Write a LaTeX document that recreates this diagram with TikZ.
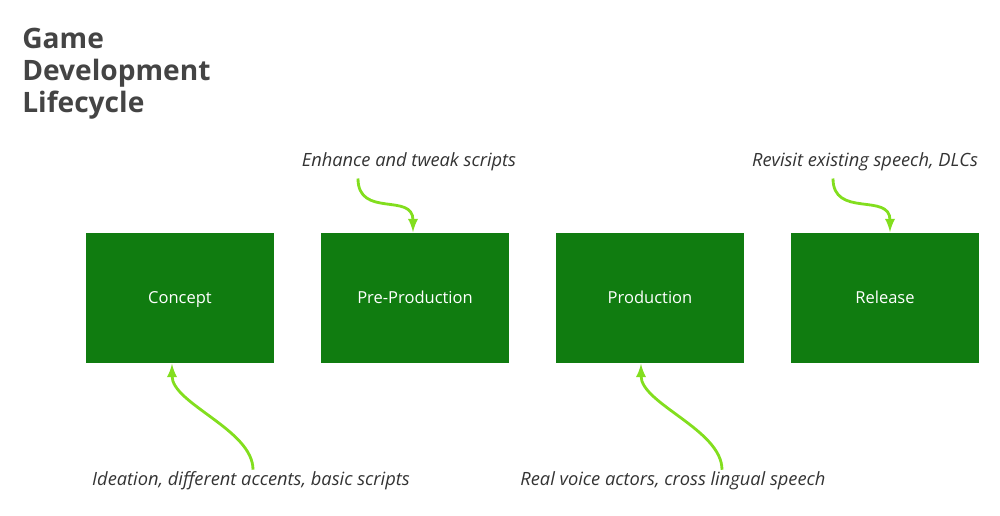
\documentclass[tikz,border=0pt]{standalone}
\usepackage{fontspec}
\setmainfont{Open Sans}
\usepackage{tikz}
\usetikzlibrary{arrows}

\definecolor{xgreen}{RGB}{16,124,16}
\definecolor{lime}{RGB}{130,222,30}
\definecolor{ink}{RGB}{51,51,51}
\definecolor{heading}{RGB}{68,68,68}

\tikzset{
  phase/.style={fill=xgreen, minimum width=3.76cm, minimum height=2.62cm,
                text=white, text height=1.6ex, text depth=0.5ex,
                font=\fontsize{9.4}{11}\selectfont},
  note/.style={text=ink, inner sep=0pt, font=\fontsize{10.4}{12}\selectfont\itshape},
  lead/.style={draw=lime, line width=1.6pt, -latex}
}

\begin{document}
\begin{tikzpicture}[x=0.02cm, y=0.02cm]

\useasboundingbox (0,0) rectangle (1000,516);

\node [anchor=north west, inner sep=0pt, align=left, text=heading,
       font=\fontsize{16}{18.1}\selectfont\bfseries] (title) at (22,488)
       {Game\\Development\\Lifecycle};

% phases
\node [phase] (concept) at (180,218) {Concept};
\node [phase] (pre)     at (415,218) {Pre-Production};
\node [phase] (prod)    at (650,218) {Production};
\node [phase] (rel)     at (885,218) {Release};

% notes
\node [note] (enh) at (409,354) {Enhance and tweak scripts};
\node [note] (rev) at (865,354) {Revisit existing speech, DLCs};
\node [note] (ide) at (251,35)  {Ideation, different accents, basic scripts};
\node [note] (act) at (673,35)  {Real voice actors, cross lingual speech};

\draw [lead] ([xshift=-51*0.02cm, yshift=-4pt]enh.south)
    .. controls +(0,-40) and +(0,40) .. ([xshift=-2*0.02cm]pre.north);
\draw [lead] ([xshift=-32*0.02cm, yshift=-4pt]rev.south)
    .. controls +(0,-40) and +(0,40) .. ([xshift=5*0.02cm]rel.north);
\draw [lead] ([xshift=2*0.02cm, yshift=1pt]ide.north)
    .. controls +(0,40) and +(0,-40) .. ([xshift=-8*0.02cm]concept.south);
\draw [lead] ([xshift=49*0.02cm, yshift=1pt]act.north)
    .. controls +(0,40) and +(0,-40) .. ([xshift=-9*0.02cm]prod.south);

\end{tikzpicture}
\end{document}
